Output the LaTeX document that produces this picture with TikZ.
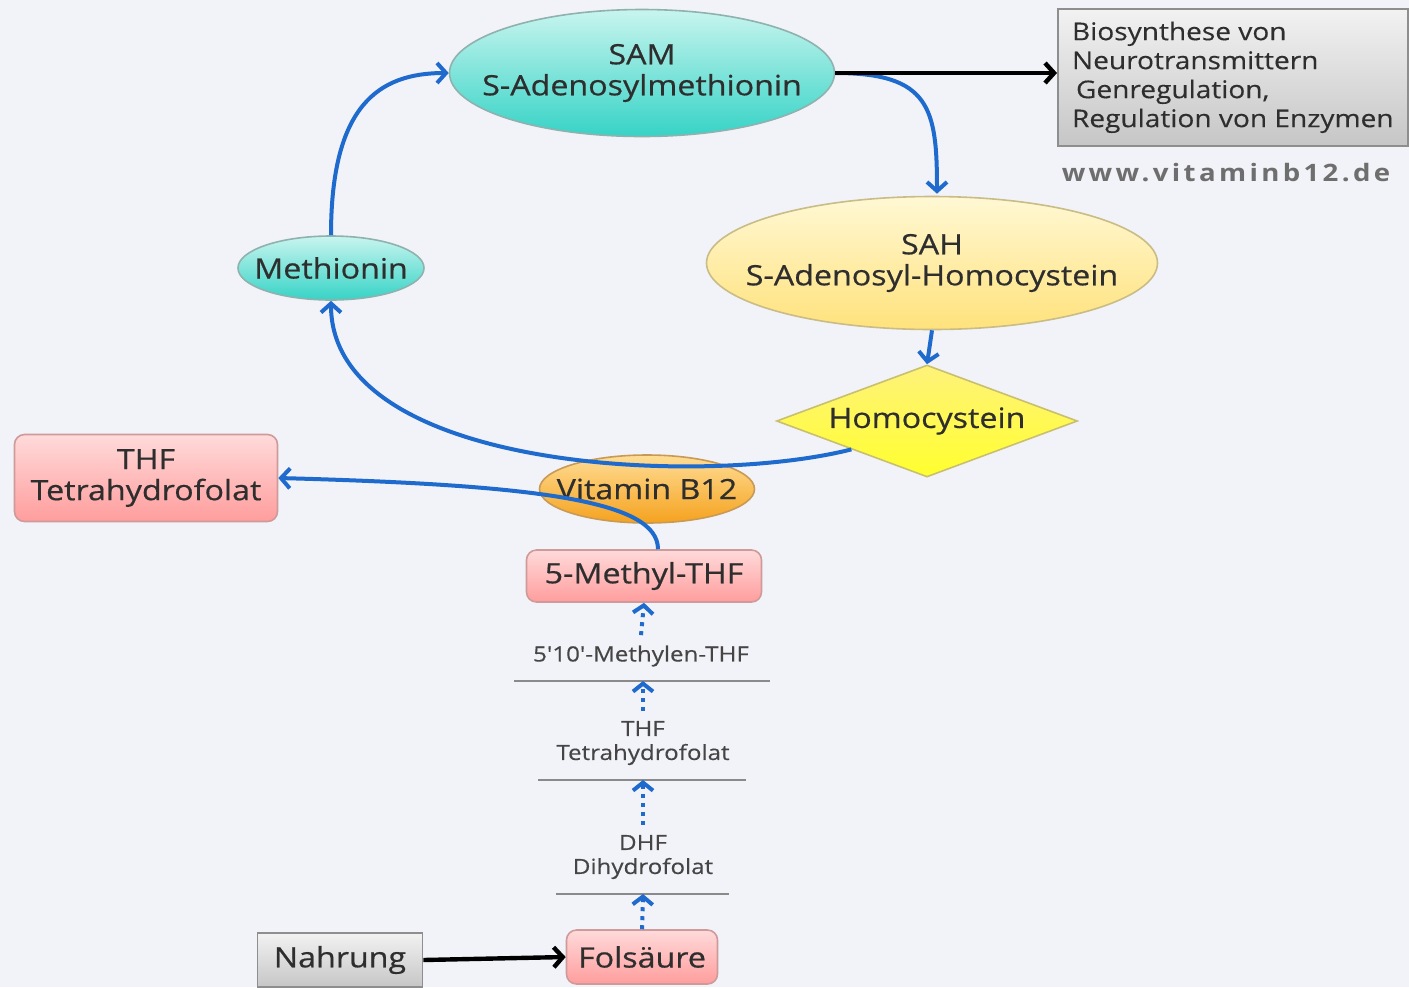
\documentclass[tikz,border=0pt]{standalone}
\usepackage{fontspec}
\setmainfont{Open Sans}[FakeStretch=1.15,FakeBold=0.6]
\newfontfamily\wwwfont{Open Sans}[FakeStretch=1.15,LetterSpace=14]
\newfontfamily\lblfont{Open Sans}[FakeStretch=1.15,FakeBold=0.3]
\usetikzlibrary{shapes.geometric,arrows.meta,calc}
\definecolor{bgc}{HTML}{F2F3F8}
\definecolor{txt}{HTML}{2E2E2E}
\definecolor{lbltxt}{HTML}{454545}
\definecolor{tealT}{HTML}{C8F5EF}
\definecolor{tealB}{HTML}{36D3C6}
\definecolor{tealD}{HTML}{8FB2AE}
\definecolor{sahT}{HTML}{FFF8D4}
\definecolor{sahB}{HTML}{FFE27C}
\definecolor{sahD}{HTML}{C9BC86}
\definecolor{homT}{HTML}{FFF27A}
\definecolor{homB}{HTML}{FFFF2E}
\definecolor{homD}{HTML}{C8C070}
\definecolor{orT}{HTML}{FFDD96}
\definecolor{orB}{HTML}{F5A21E}
\definecolor{orD}{HTML}{C89A55}
\definecolor{pinkT}{HTML}{FFDADA}
\definecolor{pinkB}{HTML}{FF9D9D}
\definecolor{pinkD}{HTML}{CF9A9A}
\definecolor{greyT}{HTML}{F2F2F2}
\definecolor{greyB}{HTML}{C6C6C6}
\definecolor{greyD}{HTML}{8E8E8E}
\definecolor{blu}{HTML}{1F6ACD}
\definecolor{rule}{HTML}{8A8A8A}
\definecolor{wwwc}{HTML}{6E6E6E}
\tikzset{
  base/.style={align=center, text=txt, inner sep=0pt, line width=0.8pt,
    font=\fontsize{14}{15.5}\selectfont},
  txtlbl/.style={align=center, text=txt, inner sep=0pt, font=\fontsize{14}{15.5}\selectfont},
  tealell/.style={base, ellipse, draw=tealD, top color=tealT, bottom color=tealB},
  yellell/.style={base, ellipse, draw=sahD, top color=sahT, bottom color=sahB},
  orangell/.style={base, ellipse, draw=orD, top color=orT, bottom color=orB},
  yelldia/.style={base, diamond, aspect=2.7, draw=homD, top color=homT, bottom color=homB},
  pinkbox/.style={base, rectangle, rounded corners=5pt, draw=pinkD, top color=pinkT, bottom color=pinkB},
  greybox/.style={base, rectangle, draw=greyD, top color=greyT, bottom color=greyB},
  lbl/.style={align=center, text=lbltxt, inner sep=5pt, font=\lblfont\fontsize{10.5}{12}\selectfont},
  bluearr/.style={draw=blu, line width=2pt, -{Straight Barb[length=4.5pt,width=10pt]}},
  blackarr/.style={draw=black, line width=2.2pt, -{Straight Barb[length=4.5pt,width=10pt]}},
  dotarr/.style={draw=blu, line width=2pt, dash pattern=on 2pt off 2.5pt, -{Straight Barb[length=4pt,width=10pt]}},
  rulestyle/.style={draw=rule, line width=0.6pt}
}
\begin{document}
\begin{tikzpicture}[x=0.5pt,y=-0.5pt]
\useasboundingbox (0,0) rectangle (1409,987);
\fill[bgc] (0,0) rectangle (1409,987);

% nodes
\node[tealell, minimum width=192.5pt, minimum height=63.5pt,
      label={[txtlbl]center:{SAM\\S-Adenosylmethionin}}] (sam) at (642,73) {};
\node[greybox, minimum width=175pt, minimum height=68.5pt, align=left, anchor=north west,
      inner xsep=5pt, font=\lblfont\fontsize{12.2}{14.5}\selectfont] (bio) at (1057,8)
  {Biosynthese von\\Neurotransmittern\\\hspace{2pt}Genregulation,\\Regulation von Enzymen};
\node[text=wwwc, font=\wwwfont\bfseries\fontsize{12}{13}\selectfont, inner sep=0pt] (www) at (1226,173) {www.vitaminb12.de};
\node[tealell, minimum width=93pt, minimum height=32pt,
      label={[txtlbl]center:Methionin}] (meth) at (331,268) {};
\node[yellell, minimum width=225.5pt, minimum height=66.5pt,
      label={[txtlbl]center:{SAH\\S-Adenosyl-Homocystein}}] (sah) at (932,263) {};
\node[yelldia, minimum width=150.5pt, minimum height=56pt] (homo) at (927,421) {\raisebox{3pt}{Homocystein}};
\node[pinkbox, minimum width=131.5pt, minimum height=43.5pt] (thf) at (146,478) {THF\\Tetrahydrofolat};
\node[orangell, minimum width=107.5pt, minimum height=34pt,
      label={[txtlbl]center:Vitamin B12}] (b12) at (647,489) {};
\node[pinkbox, minimum width=117.5pt, minimum height=26pt] (methyl) at (644,576) {5-Methyl-THF};
\node[lbl] (lm) at (641,656) {5'10'-Methylen-THF};
\node[lbl] (lt) at (643,743) {THF\\Tetrahydrofolat};
\node[lbl] (ld) at (643,857) {DHF\\Dihydrofolat};
\node[pinkbox, minimum width=75.5pt, minimum height=27pt] (fol) at (642,957) {Folsäure};
\node[greybox, minimum width=82.5pt, minimum height=27pt] (nahr) at (340,960) {Nahrung};

% rules under labels
\coordinate (r1) at (643,681);
\coordinate (r2) at (643,780);
\coordinate (r3) at (643,894);
\draw[rulestyle] (514,681) -- (770,681);
\draw[rulestyle] (538,780) -- (746,780);
\draw[rulestyle] (556,894) -- (729,894);

% dotted arrows
\draw[dotarr] (lm.north) -- (methyl.south);
\draw[dotarr] (lt.north) -- (r1);
\draw[dotarr] (ld.north) -- (r2);
\draw[dotarr] (fol.north) -- (r3);

% connectors
\draw[bluearr] (sam.east) .. controls +(95,0) and +(0,-85) .. ($(sah.north)+(5,-2)$);
\draw[blackarr] (sam.east) -- (bio.west |- sam.east);
\draw[bluearr] (meth.north) .. controls +(0,-130) and +(-70,0) .. (sam.west);
\draw[bluearr] (sah.south) -- (homo.north);
\draw[bluearr] (homo.south west) .. controls +(-150,38) and +(0,170) .. (meth.south);
\draw[bluearr] ($(methyl.north)+(14,0)$) .. controls +(0,-48) and +(262,7) .. (thf.east);
\draw[blackarr] (nahr.east) -- (fol.west);
\end{tikzpicture}
\end{document}
